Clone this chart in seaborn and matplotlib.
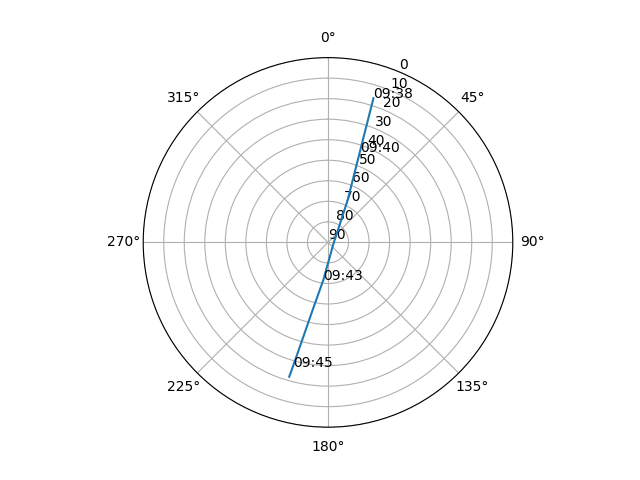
import numpy as np
import pandas as pd
import seaborn as sns
import matplotlib
matplotlib.use("Agg")
import matplotlib.pyplot as plt

# satellite pass track (azimuth deg, elevation deg)
azimuth = [17.5, 18.4, 19.4, 21.1, 24.9, 28.4, 36.4, 51.3, 86.2, 142.5,
           171.4, 181.9, 187.1, 192.8, 194.8, 195.8, 196.1]
elevation = [16.4, 32.3, 43.3, 54.8, 67.2, 74.8, 81.3, 85.0, 87.1, 86.6,
             83.3, 78.5, 71.5, 56.3, 40.8, 26.9, 21.9]

# time markers
label_times = ["09:38", "09:40", "09:43", "09:45"]
label_az = [17.5, 19.4, 187.1, 195.8]
label_el = [16.4, 43.3, 71.5, 26.9]

df = pd.DataFrame({"theta": np.deg2rad(azimuth), "el": elevation})

fig = plt.figure(figsize=(6.4, 4.8), dpi=100)
ax = fig.add_subplot(111, projection="polar")
ax.set_theta_zero_location("N")
ax.set_theta_direction(-1)

sns.lineplot(data=df, x="theta", y="el", sort=False, ax=ax, color="C0")

for t, a, e in zip(label_times, label_az, label_el):
    ax.text(np.deg2rad(a), e, t)

ax.set_rlim(90, 0)
ax.set_yticks(range(0, 91, 10))
ax.set_xlabel("")
ax.set_ylabel("")

plt.savefig("out.png")
